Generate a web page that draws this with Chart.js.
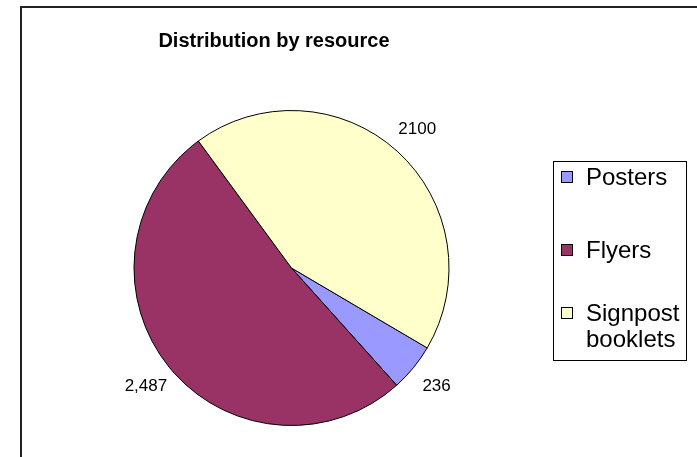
<!DOCTYPE html>
<html>
<head>
<meta charset="utf-8">
<script src="https://cdn.jsdelivr.net/npm/chart.js@4"></script>
<style>
    html, body { margin: 0; padding: 0; background: #fff; }
    #wrap { position: relative; width: 697px; height: 457px; overflow: hidden; }
    #frame {
        position: absolute; left: 20px; top: 6px; width: 720px; height: 480px;
        border: 2px solid #222; box-sizing: border-box;
    }
    canvas { position: absolute; left: 0; top: 0; }
</style>
</head>
<body>
<div id="wrap">
    <div id="frame"></div>
    <canvas id="pie" width="697" height="457"></canvas>
</div>
<script>
let categories = ["Posters", "Flyers", "Signpost booklets"];
let legendLines = [["Posters"], ["Flyers"], ["Signpost", "booklets"]];
let values = [236, 2487, 2100];
let valueLabels = ["236", "2,487", "2100"];
let colors = ["#9999FF", "#993366", "#FFFFCC"];
let chartTitle = "Distribution by resource";

const font = "'Liberation Sans', Arial, sans-serif";

// title, outside value labels and the boxed legend
const extras = {
    id: "extras",
    afterDraw(chart) {
        let ctx = chart.ctx;
        ctx.save();

        ctx.fillStyle = "#000";
        ctx.font = "bold 20px " + font;
        ctx.textAlign = "center";
        ctx.textBaseline = "alphabetic";
        ctx.fillText(chartTitle, 274, 47);

        let meta = chart.getDatasetMeta(0);
        ctx.font = "17px " + font;
        ctx.textBaseline = "middle";
        meta.data.forEach((arc, i) => {
            let mid = (arc.startAngle + arc.endAngle) / 2;
            let r = arc.outerRadius + 30;
            ctx.fillText(valueLabels[i], arc.x + Math.cos(mid) * r, arc.y + Math.sin(mid) * r);
        });

        // legend
        ctx.strokeStyle = "#000";
        ctx.lineWidth = 1;
        ctx.strokeRect(553.5, 161.5, 133, 199);
        let rows = [177, 250, 313];
        ctx.textAlign = "left";
        ctx.font = "24px " + font;
        categories.forEach((c, i) => {
            let y = rows[i];
            ctx.fillStyle = colors[i];
            ctx.fillRect(561.5, y - 5.5, 11, 11);
            ctx.strokeRect(561.5, y - 5.5, 11, 11);
            ctx.fillStyle = "#000";
            legendLines[i].forEach((line, j) => {
                ctx.fillText(line, 586, y + 1 + j * 26);
            });
        });
        ctx.restore();
    }
};

new Chart(document.getElementById("pie"), {
    type: "pie",
    data: {
        labels: categories,
        datasets: [{
            data: values,
            backgroundColor: colors,
            borderColor: "#000",
            borderWidth: 1
        }]
    },
    options: {
        responsive: false,
        animation: false,
        rotation: 120.5,
        layout: {
            padding: { left: 133, top: 110, right: 247, bottom: 31 }
        },
        plugins: {
            legend: { display: false },
            title: { display: false },
            tooltip: { enabled: false }
        }
    },
    plugins: [extras]
});
</script>
</body>
</html>
